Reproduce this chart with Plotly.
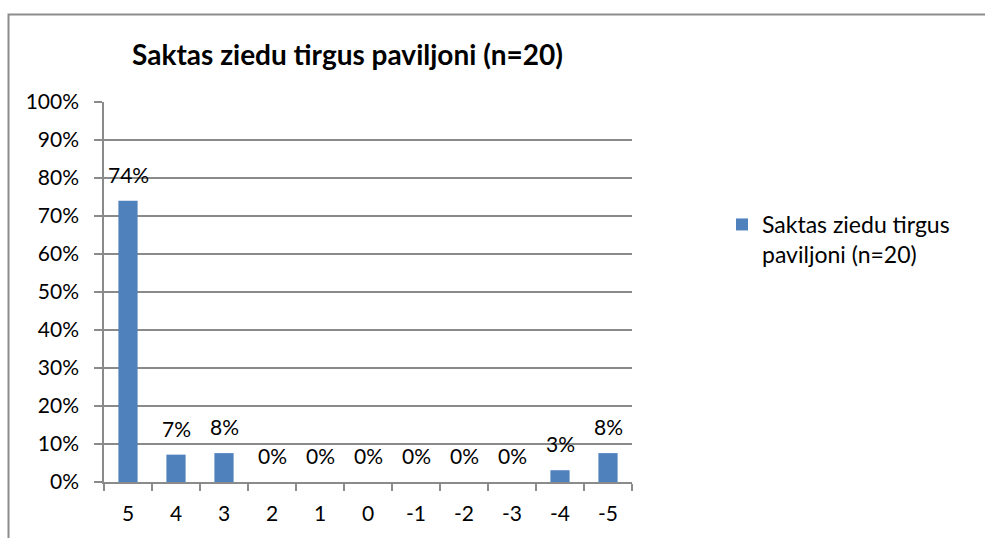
import plotly.graph_objects as go

# Chart data
categories = ["5", "4", "3", "2", "1", "0", "-1", "-2", "-3", "-4", "-5"]
shares = [0.74, 0.072, 0.076, 0.0, 0.0, 0.0, 0.0, 0.0, 0.0, 0.031, 0.076]
series_name = "Saktas ziedu tirgus paviljoni (n=20)"
legend_label = "Saktas ziedu tirgus<br>paviljoni (n=20)"
y_ticks = [i / 10 for i in range(11)]
y_tick_labels = [f"{i * 10}%" for i in range(11)]

W, H = 985, 538
# plot area in pixels
PL, PR, PT, PB = 104, 632, 102, 482
FONT = "Lato, 'Open Sans', sans-serif"
BAR_COLOR = "#4F81BD"
GRID = "#8a8a8a"


def px_to_paper_x(px):
    return (px - PL) / (PR - PL)


def px_to_paper_y(py):
    return (PB - py) / (PB - PT)


fig = go.Figure()
fig.add_trace(go.Bar(
    x=categories,
    y=shares,
    name=legend_label,
    marker=dict(color=BAR_COLOR, line=dict(width=0)),
    showlegend=True,
))

# value labels above each bar (positioned by category index)
for idx, val in enumerate(shares):
    fig.add_annotation(
        x=idx, y=val, xref="x", yref="y",
        text=f"{round(val * 100):.0f}%",
        showarrow=False, yanchor="bottom", yshift=12,
        font=dict(family=FONT, size=21, color="#000000"),
    )

# outer chart frame
fig.add_shape(
    type="rect", xref="paper", yref="paper",
    x0=px_to_paper_x(8.5), x1=px_to_paper_x(1000),
    y0=px_to_paper_y(560), y1=px_to_paper_y(14.5),
    line=dict(color="#8c8c8c", width=2), fillcolor="rgba(0,0,0,0)",
    layer="below",
)

fig.update_layout(
    width=W, height=H,
    margin=dict(l=PL, r=W - PR, t=PT, b=H - PB, pad=0),
    paper_bgcolor="white", plot_bgcolor="white",
    bargap=0.6,
    title=dict(
        text=f"<b>{series_name}</b>",
        x=347.5 / W, xref="container", xanchor="center",
        y=1 - 55 / H, yref="container", yanchor="middle",
        font=dict(family=FONT, size=28, color="#000000"),
    ),
    font=dict(family=FONT, size=21, color="#000000"),
    legend=dict(
        x=px_to_paper_x(722), y=px_to_paper_y(203),
        xanchor="left", yanchor="top", valign="top",
        bgcolor="rgba(0,0,0,0)",
        font=dict(family=FONT, size=23, color="#000000"),
        itemwidth=30, tracegroupgap=0,
    ),
    xaxis=dict(
        type="category",
        categoryorder="array", categoryarray=categories,
        range=[-0.5, len(categories) - 0.5],
        showgrid=False,
        showline=True, linecolor=GRID, linewidth=1.5,
        ticks="outside", tickson="boundaries", ticklen=7,
        tickcolor=GRID, tickwidth=1.5,
        tickfont=dict(family=FONT, size=21),
        ticklabelstandoff=12,
    ),
    yaxis=dict(
        range=[0, 1],
        tickvals=y_ticks, ticktext=y_tick_labels,
        showgrid=True, gridcolor=GRID, gridwidth=1.5,
        showline=True, linecolor=GRID, linewidth=1.5,
        ticks="outside", ticklen=8, tickcolor=GRID, tickwidth=1.5,
        tickfont=dict(family=FONT, size=21),
        ticklabelstandoff=11,
        zeroline=False,
    ),
)

fig.write_html("out.html")
